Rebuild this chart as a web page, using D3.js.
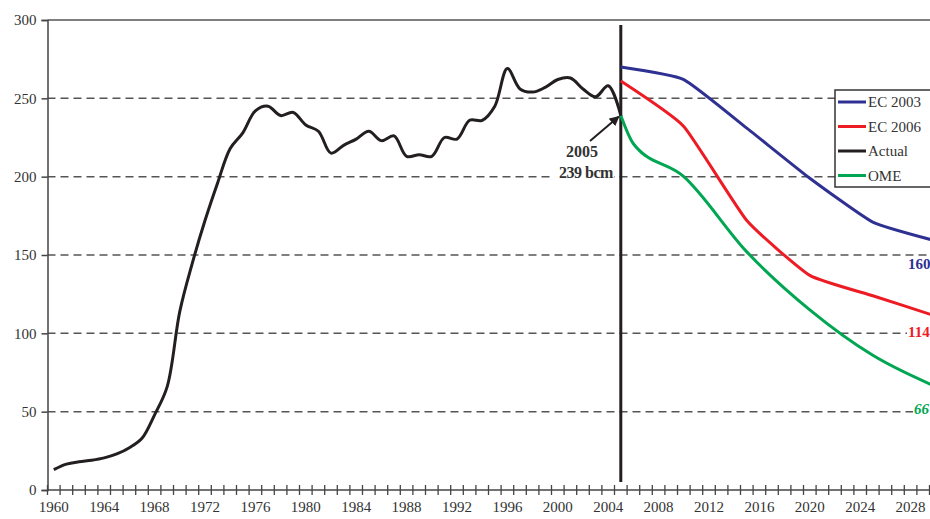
<!DOCTYPE html>
<html>
<head>
<meta charset="utf-8">
<script src="https://cdn.jsdelivr.net/npm/d3@7"></script>
<style>
  html, body { margin: 0; padding: 0; background: #fff; }
  svg { display: block; font-family: "Liberation Serif", "DejaVu Serif", serif; }
</style>
</head>
<body>
<svg id="chart" width="930" height="519"></svg>
<script>
// ---- data ----
const actualYears = d3.range(1960, 2006);
const actualValues = [13, 16.5, 18, 19, 20.5, 23, 27, 33, 48, 66,
  114, 145, 172, 196, 218, 228, 242, 245, 239, 241,
  233, 229, 215, 220, 224, 229, 223, 226, 213, 214,
  213, 225, 224, 236, 236, 245, 269, 256, 254, 257,
  262, 263, 256, 251, 258, 239];

const ec2003Years = [2005, 2010, 2015, 2020, 2025, 2030];
const ec2003Values = [270, 262, 231, 199, 171, 159];

const ec2006Years = [2005, 2010, 2015, 2020, 2025, 2030];
const ec2006Values = [261, 232, 172, 137, 124, 111];

const omeYears = [2005, 2006, 2010, 2015, 2020, 2025, 2030];
const omeValues = [239, 221, 200, 152, 115, 86, 66];

const yTicks = [0, 50, 100, 150, 200, 250, 300];
const xLabelYears = d3.range(1960, 2030, 4);
const legendNames = ["EC 2003", "EC 2006", "Actual", "OME"];
const legendColors = ["#2e3192", "#ed1c24", "#231f20", "#00a651"];
const endLabels = ["160", "114", "66"];
const annotationLines = ["2005", "239 bcm"];

// ---- scales ----
const svg = d3.select("#chart");
const x = d3.scaleLinear().domain([1959.5, 2030.5]).range([47.5, 942.1]);
const y = d3.scaleLinear().domain([0, 300]).range([490, 20]);

// gridlines
svg.append("g").selectAll("line")
  .data(yTicks.filter(v => v > 0 && v < 300))
  .join("line")
  .attr("x1", x(1959.5)).attr("x2", 930)
  .attr("y1", d => y(d)).attr("y2", d => y(d))
  .attr("stroke", "#555").attr("stroke-width", 1.5)
  .attr("stroke-dasharray", "8,5");

// top border
svg.append("line")
  .attr("x1", x(1959.5)).attr("x2", 930)
  .attr("y1", y(300)).attr("y2", y(300))
  .attr("stroke", "#555").attr("stroke-width", 1.5);

// y axis
const yAxis = d3.axisLeft(y).tickValues(yTicks).tickSize(6).tickPadding(5);
const gy = svg.append("g").attr("transform", `translate(${x(1959.5)},0)`).call(yAxis);
gy.select(".domain").attr("stroke", "#444").attr("stroke-width", 1.5);
gy.selectAll(".tick line").attr("stroke", "#444").attr("stroke-width", 1.5);
gy.selectAll(".tick text").attr("font-size", 15).attr("fill", "#333")
  .attr("font-family", "Liberation Serif");

// x axis line + year ticks
svg.append("line")
  .attr("x1", x(1959.5)).attr("x2", 930)
  .attr("y1", y(0)).attr("y2", y(0))
  .attr("stroke", "#444").attr("stroke-width", 1.5);
svg.append("g").selectAll("line")
  .data(d3.range(1960, 2031))
  .join("line")
  .attr("x1", d => x(d - 0.5)).attr("x2", d => x(d - 0.5))
  .attr("y1", y(0) - 5).attr("y2", y(0) + 5)
  .attr("stroke", "#444").attr("stroke-width", 1.3);
svg.append("g").selectAll("text")
  .data(xLabelYears)
  .join("text")
  .attr("x", d => x(d)).attr("y", 512)
  .attr("text-anchor", "middle")
  .attr("font-size", 15).attr("fill", "#333")
  .text(d => d);

// vertical line at 2005
svg.append("line")
  .attr("x1", x(2005)).attr("x2", x(2005))
  .attr("y1", 25).attr("y2", 482)
  .attr("stroke", "#231f20").attr("stroke-width", 3);

// lines
const line = (curve) => d3.line().x(d => x(d[0])).y(d => y(d[1])).curve(curve);
const series = [
  { yrs: ec2003Years, vals: ec2003Values, color: legendColors[0], curve: d3.curveCardinal.tension(0.55) },
  { yrs: ec2006Years, vals: ec2006Values, color: legendColors[1], curve: d3.curveCardinal.tension(0.55) },
  { yrs: omeYears, vals: omeValues, color: legendColors[3], curve: d3.curveMonotoneX },
  { yrs: actualYears, vals: actualValues, color: legendColors[2], curve: d3.curveCatmullRom.alpha(0.5) }
];
series.forEach(s => {
  svg.append("path")
    .datum(s.yrs.map((yr, i) => [yr, s.vals[i]]))
    .attr("d", line(s.curve))
    .attr("fill", "none")
    .attr("stroke", s.color)
    .attr("stroke-width", 3)
    .attr("stroke-linejoin", "round");
});

// end labels
const endVals = [ec2003Values[5], ec2006Values[5], omeValues[6]];
const endColors = [legendColors[0], legendColors[1], legendColors[3]];
const endOffsets = [28, 21, 27];
endLabels.forEach((t, i) => {
  const lx = 908 + (i === 2 ? 6 : 0);
  const ly = y(endVals[i]) + endOffsets[i];
  svg.append("rect").attr("x", lx - 1).attr("y", ly - 11)
    .attr("width", 30).attr("height", 13).attr("fill", "#fff");
  svg.append("text")
    .attr("x", lx)
    .attr("y", ly)
    .attr("font-size", 15).attr("font-weight", "bold")
    .attr("font-style", i === 2 ? "italic" : "normal")
    .attr("fill", endColors[i])
    .text(t);
});

// annotation
const annX = 582;
svg.append("rect").attr("x", annX - 32).attr("y", y(200) - 10)
  .attr("width", 64).attr("height", 16).attr("fill", "#fff");
svg.append("text").attr("x", annX).attr("y", 157)
  .attr("text-anchor", "middle").attr("font-size", 16).attr("font-weight", "bold")
  .attr("fill", "#333").text(annotationLines[0]);
svg.append("text").attr("x", annX + 4).attr("y", 178)
  .attr("text-anchor", "middle").attr("font-size", 16).attr("font-weight", "bold")
  .attr("fill", "#333").attr("letter-spacing", -0.5).text(annotationLines[1]);

// arrow
svg.append("defs").append("marker")
  .attr("id", "arrow").attr("viewBox", "0 0 10 10")
  .attr("refX", 9).attr("refY", 5)
  .attr("markerWidth", 5).attr("markerHeight", 5)
  .attr("orient", "auto")
  .append("path").attr("d", "M0,0 L10,5 L0,10 z").attr("fill", "#231f20");
svg.append("line")
  .attr("x1", 590).attr("y1", 141)
  .attr("x2", x(2005) - 2).attr("y2", y(actualValues[45]) + 1)
  .attr("stroke", "#231f20").attr("stroke-width", 2)
  .attr("marker-end", "url(#arrow)");

// legend
const lg = svg.append("g").attr("transform", "translate(835,90)");
lg.append("rect").attr("x", 0).attr("y", 0).attr("width", 110).attr("height", 97)
  .attr("fill", "#fff").attr("stroke", "#333").attr("stroke-width", 1.5);
legendNames.forEach((n, i) => {
  const ly = 12 + i * 24.5;
  lg.append("line").attr("x1", 3).attr("x2", 31).attr("y1", ly).attr("y2", ly)
    .attr("stroke", legendColors[i]).attr("stroke-width", 3);
  lg.append("text").attr("x", 33).attr("y", ly + 5)
    .attr("font-size", 15).attr("fill", "#333").text(n);
});
</script>
</body>
</html>
